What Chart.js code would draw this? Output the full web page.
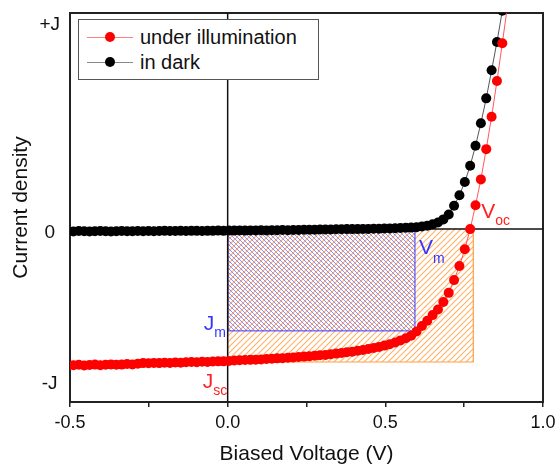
<!DOCTYPE html>
<html>
<head>
<meta charset="utf-8">
<script src="https://cdn.jsdelivr.net/npm/chart.js@4.4.1/dist/chart.umd.min.js"></script>
<style>
  body { margin: 0; background: #fff; }
  #wrap { position: relative; width: 559px; height: 467px; }
  #legend { position: absolute; left: 78px; top: 19px; width: 239px; height: 59px; border: 1px solid #555; background: #fff;
            font: 20px 'Liberation Sans', Arial, sans-serif; color: #111; }
  #legend .row { position: absolute; left: 0; width: 100%; height: 22px; }
  #legend .ln { position: absolute; left: 8px; top: 11px; width: 46px; height: 1px; }
  #legend .dot { position: absolute; left: 26px; top: 6px; width: 10px; height: 10px; border-radius: 50%; }
  #legend .txt { position: absolute; left: 61px; top: 0; line-height: 22px; white-space: nowrap; }
</style>
</head>
<body>
<div id="wrap">
  <canvas id="chart" width="559" height="467"></canvas>
  <div id="legend">
    <div class="row" style="top:6px"><div class="ln" style="background:#ff8080"></div><div class="dot" style="background:#ff0000"></div><span class="txt">under illumination</span></div>
    <div class="row" style="top:31px"><div class="ln" style="background:#888"></div><div class="dot" style="background:#000"></div><span class="txt">in dark</span></div>
  </div>
</div>
<script>
const family = "'Liberation Sans', Arial, sans-serif";

// biased voltage (V), shared by both curves
const voltage = [
  -0.506, -0.489, -0.472, -0.455, -0.438, -0.421, -0.404, -0.387, -0.370, -0.353,
  -0.336, -0.319, -0.302, -0.285, -0.268, -0.251, -0.234, -0.217, -0.200, -0.183,
  -0.166, -0.149, -0.132, -0.115, -0.098, -0.081, -0.064, -0.047, -0.030, -0.013,
  0.004, 0.021, 0.038, 0.055, 0.072, 0.089, 0.106, 0.123, 0.140, 0.157,
  0.174, 0.191, 0.208, 0.225, 0.242, 0.259, 0.276, 0.293, 0.310, 0.327,
  0.344, 0.361, 0.378, 0.395, 0.412, 0.429, 0.446, 0.463, 0.480, 0.497,
  0.514, 0.531, 0.548, 0.565, 0.582, 0.599, 0.616, 0.633, 0.650, 0.667,
  0.684, 0.701, 0.718, 0.735, 0.752, 0.769, 0.786, 0.803, 0.820, 0.837,
  0.854, 0.871, 0.888
];

// current density under illumination (arbitrary units, -J .. +J)
const jIllum = [
  -6.31, -6.30, -6.28, -6.31, -6.29, -6.27, -6.30, -6.28, -6.26, -6.28,
  -6.27, -6.24, -6.26, -6.23, -6.20, -6.21, -6.19, -6.20, -6.18, -6.19,
  -6.17, -6.18, -6.16, -6.15, -6.16, -6.14, -6.15, -6.13, -6.12, -6.12,
  -6.10, -6.08, -6.07, -6.06, -6.05, -6.04, -6.03, -6.01, -6.00, -5.98,
  -5.97, -5.95, -5.94, -5.92, -5.90, -5.88, -5.86, -5.84, -5.82, -5.79,
  -5.76, -5.73, -5.70, -5.67, -5.63, -5.59, -5.55, -5.50, -5.45, -5.39,
  -5.33, -5.25, -5.15, -5.05, -4.93, -4.74, -4.48, -4.24, -3.98, -3.72,
  -3.37, -2.95, -2.36, -1.71, -0.93, 0.00, 1.10, 2.30, 3.70, 5.20,
  6.85, 8.60, 10.40
];

// current density in dark
const jDark = [
  -0.10, -0.11, -0.09, -0.10, -0.11, -0.10, -0.09, -0.10, -0.11, -0.10,
  -0.09, -0.10, -0.10, -0.09, -0.10, -0.09, -0.10, -0.09, -0.08, -0.09,
  -0.09, -0.08, -0.09, -0.08, -0.08, -0.09, -0.08, -0.08, -0.07, -0.08,
  -0.07, -0.07, -0.06, -0.07, -0.06, -0.06, -0.05, -0.06, -0.05, -0.05,
  -0.04, -0.05, -0.04, -0.04, -0.03, -0.03, -0.03, -0.02, -0.02, -0.02,
  -0.01, -0.01, 0.00, 0.00, 0.00, 0.01, 0.01, 0.02, 0.02, 0.03,
  0.03, 0.04, 0.05, 0.06, 0.07, 0.09, 0.12, 0.16, 0.22, 0.31,
  0.45, 0.68, 1.08, 1.57, 2.18, 2.93, 3.86, 4.90, 6.05, 7.35,
  8.66, 10.10, 11.70
];

// y tick labels
const yTickValues = [-7, 0, 9.6];
const yTickLabels = ['-J', '0', '+J'];

// operating points: open circuit / short circuit box and max power box
const voc = 0.769;
const boxVoc = 0.779, boxJsc = -6.15;
const boxVm = 0.594, boxJm = -4.71;

function hatch(color, size, slash, width) {
  const c = document.createElement('canvas');
  c.width = size; c.height = size;
  const g = c.getContext('2d');
  g.strokeStyle = color;
  g.lineWidth = width;
  g.beginPath();
  if (slash) {
    g.moveTo(-1, size + 1); g.lineTo(size + 1, -1);
    g.moveTo(-1, 1); g.lineTo(1, -1);
    g.moveTo(size - 1, size + 1); g.lineTo(size + 1, size - 1);
  } else {
    g.moveTo(-1, -1); g.lineTo(size + 1, size + 1);
    g.moveTo(size - 1, -1); g.lineTo(size + 1, 1);
    g.moveTo(-1, size - 1); g.lineTo(1, size + 1);
  }
  g.stroke();
  return g.createPattern(c, 'repeat');
}

function box(vx, jy) {
  return [{x: 0, y: 0}, {x: 0, y: jy}, {x: vx, y: jy}, {x: vx, y: 0}];
}

// subscript labels (V_oc, V_m, J_m, J_sc)
const notesPlugin = {
  id: 'notes',
  afterDatasetsDraw(chart) {
    const {ctx, scales: {x, y}} = chart;
    function sub(main, low, color, px, py, drop) {
      ctx.save();
      ctx.fillStyle = color;
      ctx.textAlign = 'left';
      ctx.textBaseline = 'alphabetic';
      ctx.font = '21px ' + family;
      ctx.fillText(main, px, py);
      const w = ctx.measureText(main).width;
      ctx.font = '14px ' + family;
      ctx.fillText(low, px + w, py + drop);
      ctx.restore();
    }
    sub('V', 'oc', '#ff2020', x.getPixelForValue(voc) + 11, y.getPixelForValue(0) - 11, 7);
    sub('V', 'm', '#3535ff', x.getPixelForValue(boxVm) + 4, y.getPixelForValue(0) + 25, 9);
    sub('J', 'm', '#3535ff', x.getPixelForValue(0) - 24, y.getPixelForValue(boxJm) - 1, 7);
    sub('J', 'sc', '#ff2020', x.getPixelForValue(0) - 25, y.getPixelForValue(boxJsc) + 26, 7);
  }
};

const ctx = document.getElementById('chart').getContext('2d');

const chart = new Chart(ctx, {
  type: 'line',
  data: {
    datasets: [
      {
        label: 'under illumination',
        data: voltage.map((v, i) => ({x: v, y: jIllum[i]})),
        borderColor: 'rgba(255,60,60,0.85)',
        borderWidth: 1,
        pointRadius: 5,
        pointBackgroundColor: '#ff0000',
        pointBorderWidth: 0,
        order: 0
      },
      {
        label: 'in dark',
        data: voltage.map((v, i) => ({x: v, y: jDark[i]})),
        borderColor: '#555',
        borderWidth: 1,
        pointRadius: 5,
        pointBackgroundColor: '#000',
        pointBorderWidth: 0,
        order: 1
      },
      {
        label: 'V = 0',
        data: [{x: 0, y: -8}, {x: 0, y: 10}],
        borderColor: '#111',
        borderWidth: 1.5,
        pointRadius: 0,
        order: 2
      },
      {
        label: 'J = 0',
        data: [{x: -0.5, y: 0}, {x: 1.0, y: 0}],
        borderColor: '#111',
        borderWidth: 1.5,
        pointRadius: 0,
        order: 2
      },
      {
        label: 'Vm x Jm',
        data: box(boxVm, boxJm),
        fill: 'origin',
        backgroundColor: hatch('rgba(80,80,255,0.62)', 4, false, 1),
        borderColor: '#3a3aff',
        borderWidth: 1,
        pointRadius: 0,
        order: 3
      },
      {
        label: 'Voc x Jsc',
        data: box(boxVoc, boxJsc),
        fill: 'origin',
        backgroundColor: hatch('rgba(255,160,70,0.8)', 6, true, 1.2),
        borderColor: '#ffa040',
        borderWidth: 1.2,
        pointRadius: 0,
        order: 4
      }
    ]
  },
  options: {
    responsive: false,
    animation: false,
    devicePixelRatio: 1,
    events: [],
    layout: { padding: { top: 13, right: 16, bottom: 0, left: 0 } },
    plugins: { legend: { display: false }, tooltip: { enabled: false } },
    scales: {
      x: {
        type: 'linear',
        position: 'bottom',
        min: -0.5,
        max: 1.0,
        ticks: {
          stepSize: 0.25,
          autoSkip: false,
          maxRotation: 0,
          padding: 5,
          color: '#111',
          font: { size: 18, family: family },
          callback: v => Math.abs(v * 2 - Math.round(v * 2)) < 1e-6 ? v.toFixed(1) : ''
        },
        grid: { drawOnChartArea: false, drawTicks: true, tickLength: 5, color: '#222', lineWidth: 1.5 },
        border: { color: '#222', width: 2 },
        title: { display: true, text: 'Biased Voltage (V)', color: '#111', font: { size: 21, family: family }, padding: { top: 0, bottom: 0 } },
        afterFit: s => { s.height = 65; s.paddingLeft = 0; s.paddingRight = 0; }
      },
      y: {
        type: 'linear',
        position: 'left',
        min: -8,
        max: 10,
        afterBuildTicks: s => { s.ticks = yTickValues.map(v => ({value: v})); },
        ticks: {
          crossAlign: 'center',
          padding: 10,
          labelOffset: 3.5,
          color: '#111',
          font: { size: 19, family: family },
          callback: (v, i) => yTickLabels[i]
        },
        grid: { drawOnChartArea: false, drawTicks: false },
        border: { color: '#222', width: 2 },
        title: { display: true, text: 'Current density', color: '#111', font: { size: 21, family: family }, padding: { top: 9, bottom: 0 } },
        afterFit: s => { s.width = 70; s.paddingTop = 0; s.paddingBottom = 0; }
      },
      x2: {
        type: 'linear',
        position: 'top',
        min: -0.5,
        max: 1.0,
        ticks: { display: false },
        grid: { drawOnChartArea: false, drawTicks: false },
        border: { color: '#222', width: 2 },
        afterFit: s => { s.height = 0; s.paddingLeft = 0; s.paddingRight = 0; }
      },
      y2: {
        type: 'linear',
        position: 'right',
        min: -8,
        max: 10,
        ticks: { display: false },
        grid: { drawOnChartArea: false, drawTicks: false },
        border: { color: '#222', width: 2 },
        afterFit: s => { s.width = 0; s.paddingTop = 0; s.paddingBottom = 0; }
      }
    }
  },
  plugins: [notesPlugin]
});
</script>
</body>
</html>
